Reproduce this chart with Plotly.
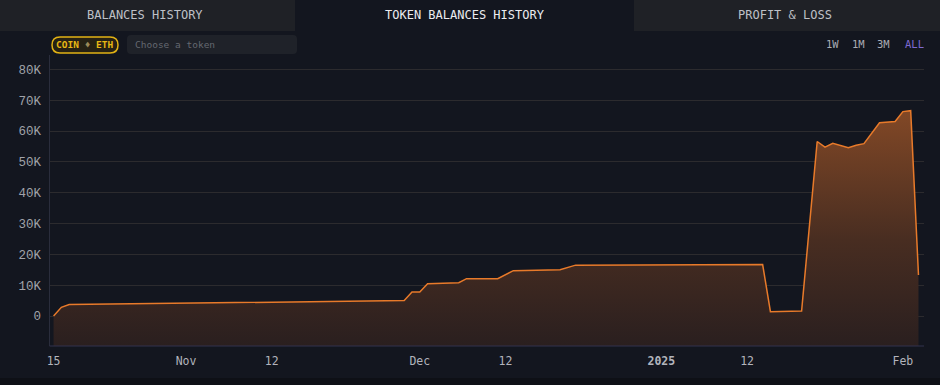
import plotly.graph_objects as go

# ---- data ----
dates = ["2024-10-15", "2024-10-16", "2024-10-17", "2024-10-25", "2024-11-08",
         "2024-11-20", "2024-11-29", "2024-11-30", "2024-12-01", "2024-12-02",
         "2024-12-06", "2024-12-07", "2024-12-11", "2024-12-13", "2024-12-19",
         "2024-12-21", "2025-01-14", "2025-01-15", "2025-01-19", "2025-01-21",
         "2025-01-22", "2025-01-23", "2025-01-24", "2025-01-25", "2025-01-26",
         "2025-01-27", "2025-01-29", "2025-01-31", "2025-02-01", "2025-02-02",
         "2025-02-03"]
balances = [0, 2800, 3700, 3950, 4400,
            4700, 5000, 7800, 7800, 10500,
            10800, 12100, 12100, 14700, 15000,
            16500, 16700, 1400, 1600, 56600,
            54800, 56000, 55400, 54600, 55400,
            55900, 62700, 63100, 66300, 66600,
            13300]

x_tickvals = ["2024-10-15", "2024-11-01", "2024-11-12", "2024-12-01",
              "2024-12-12", "2025-01-01", "2025-01-12", "2025-02-01"]
x_ticktext = ["15", "Nov", "12", "Dec", "12", "<b>2025</b>", "12", "Feb"]
y_tickvals = [0, 10000, 20000, 30000, 40000, 50000, 60000, 70000, 80000]
y_ticktext = ["0", "10K", "20K", "30K", "40K", "50K", "60K", "70K", "80K"]

tabs = ["BALANCES HISTORY", "TOKEN BALANCES HISTORY", "PROFIT & LOSS"]
ranges = ["1W", "1M", "3M", "ALL"]

# ---- layout geometry ----
W, H = 940, 385
L, R, T, B = 50, 16, 55, 39
PW, PH = W - L - R, H - T - B
Y_MIN, Y_MAX = -9730, 84660
X_RANGE = ["2024-10-14 13:00", "2025-02-03 17:00"]

BG = "rgb(19,22,31)"
TAB_BG = "rgb(31,33,38)"
LINE = "rgb(232,122,42)"


def X(px):
    return (px - L) / PW


def Y(py):
    return (H - B - py) / PH


def rrect(x0, y0, x1, y1, r):
    return (f"M {X(x0 + r)},{Y(y0)} L {X(x1 - r)},{Y(y0)} "
            f"Q {X(x1)},{Y(y0)} {X(x1)},{Y(y0 + r)} L {X(x1)},{Y(y1 - r)} "
            f"Q {X(x1)},{Y(y1)} {X(x1 - r)},{Y(y1)} L {X(x0 + r)},{Y(y1)} "
            f"Q {X(x0)},{Y(y1)} {X(x0)},{Y(y1 - r)} L {X(x0)},{Y(y0 + r)} "
            f"Q {X(x0)},{Y(y0)} {X(x0 + r)},{Y(y0)} Z")


fig = go.Figure()

fig.add_trace(go.Scatter(x=dates, y=[Y_MIN] * len(dates), mode="lines",
                         line=dict(width=0), hoverinfo="skip", showlegend=False))
fig.add_trace(go.Scatter(
    x=dates, y=balances, mode="lines",
    line=dict(color=LINE, width=1.5),
    fill="tonexty",
    fillgradient=dict(type="vertical",
                      colorscale=[[0, "rgb(42,31,31)"], [0.45, "rgb(72,45,33)"],
                                  [1, "rgb(130,72,38)"]]),
    showlegend=False))

shapes = [
    dict(type="rect", xref="paper", yref="paper", x0=X(0), x1=X(940), y0=Y(378), y1=Y(385),
         fillcolor="rgb(14,16,22)", line=dict(width=0), layer="below"),
    dict(type="rect", xref="paper", yref="paper", x0=X(0), x1=X(295), y0=Y(0), y1=Y(31),
         fillcolor=TAB_BG, line=dict(width=0), layer="below"),
    dict(type="rect", xref="paper", yref="paper", x0=X(634), x1=X(940), y0=Y(0), y1=Y(31),
         fillcolor=TAB_BG, line=dict(width=0), layer="below"),
    dict(type="path", xref="paper", yref="paper", path=rrect(52, 37, 118, 53, 8),
         fillcolor="rgb(38,33,20)", line=dict(color="rgb(226,178,20)", width=1.5)),
    dict(type="path", xref="paper", yref="paper", path=rrect(127, 35, 297, 54, 4),
         fillcolor="rgb(31,34,41)", line=dict(width=0)),
    dict(type="line", xref="paper", yref="paper", x0=X(49.5), x1=X(49.5), y0=Y(55), y1=Y(346),
         line=dict(color="rgb(42,45,60)", width=1)),
    dict(type="line", xref="paper", yref="paper", x0=X(49.5), x1=X(924), y0=Y(346), y1=Y(346),
         line=dict(color="rgb(50,50,78)", width=1)),
]

annotations = []
tab_x = [145, 465, 785]
tab_col = ["rgb(190,192,198)", "rgb(235,236,240)", "rgb(190,192,198)"]
for t, cx, c in zip(tabs, tab_x, tab_col):
    annotations.append(dict(text=t, x=X(cx), y=Y(15), xref="paper", yref="paper",
                            showarrow=False, xanchor="center", yanchor="middle",
                            font=dict(family="DejaVu Sans Mono", size=12, color=c)))
annotations.append(dict(
    text="<b>COIN</b> <span style='color:#9a8a5a'>♦</span> <b>ETH</b>",
    x=X(85), y=Y(45), xref="paper", yref="paper", showarrow=False,
    xanchor="center", yanchor="middle",
    font=dict(family="DejaVu Sans Mono", size=9.5, color="rgb(232,184,20)")))
annotations.append(dict(text="Choose a token", x=X(133), y=Y(45), xref="paper", yref="paper",
                        showarrow=False, xanchor="left", yanchor="middle",
                        font=dict(family="DejaVu Sans Mono", size=9.5, color="rgb(100,104,112)")))
range_x = [832, 858, 883, 914.5]
for r, cx in zip(ranges, range_x):
    annotations.append(dict(text=r, x=X(cx), y=Y(44), xref="paper", yref="paper",
                            showarrow=False, xanchor="center", yanchor="middle",
                            font=dict(family="DejaVu Sans Mono", size=10.5,
                                      color="rgb(126,106,210)" if r == "ALL" else "rgb(170,172,180)")))

fig.update_layout(
    width=W, height=H,
    margin=dict(l=L, r=R, t=T, b=B, pad=0),
    paper_bgcolor=BG, plot_bgcolor=BG,
    shapes=shapes, annotations=annotations,
    xaxis=dict(range=X_RANGE, showgrid=False, zeroline=False, showline=False,
               tickvals=x_tickvals, ticktext=x_ticktext, ticks="", ticklabelstandoff=6,
               tickfont=dict(family="DejaVu Sans Mono", size=11.5, color="rgb(178,180,188)")),
    yaxis=dict(range=[Y_MIN, Y_MAX], showgrid=True, gridcolor="rgb(44,43,46)", gridwidth=1,
               zeroline=False, showline=False,
               tickvals=y_tickvals, ticktext=y_ticktext, ticks="", ticklabelstandoff=8,
               tickfont=dict(family="Liberation Mono", size=12.5, color="rgb(160,163,170)")),
    hovermode=False,
)

fig.write_html("out.html", config={"displayModeBar": False},
               post_script="document.body.style.margin='0';document.body.style.overflow='hidden';"
                           "document.body.style.background='rgb(19,22,31)';")
